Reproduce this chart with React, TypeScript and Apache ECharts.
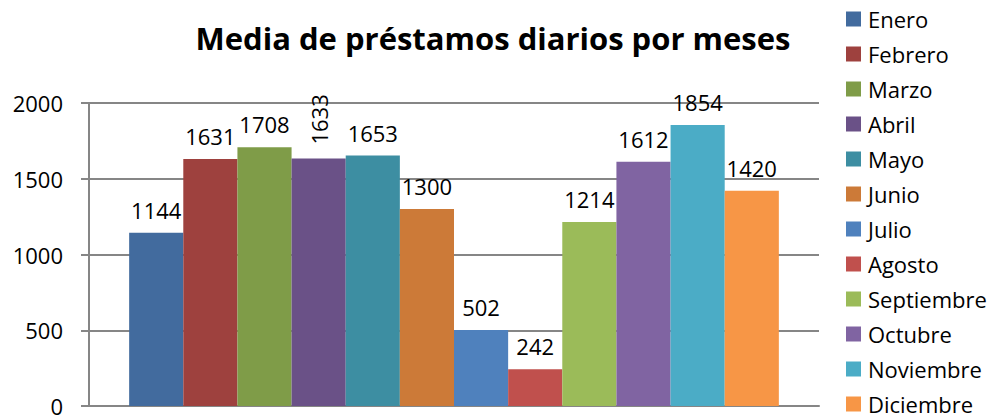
import React, { useEffect, useRef } from "react";
import * as echarts from "echarts";

const title = "Media de préstamos diarios por meses";
const months = ["Enero", "Febrero", "Marzo", "Abril", "Mayo", "Junio", "Julio", "Agosto", "Septiembre", "Octubre", "Noviembre", "Diciembre"];
const values = [1144, 1631, 1708, 1633, 1653, 1300, 502, 242, 1214, 1612, 1854, 1420];
const colors = ["#426B9E", "#9E413E", "#7F9C48", "#6A5187", "#3D8EA2", "#CC7A38", "#4F81BD", "#C0504D", "#9BBB59", "#8064A2", "#4BACC6", "#F79646"];
const rotatedLabels = ["Abril"];
const yTicks = { min: 0, max: 2000, interval: 500 };

const FONT = "Open Sans";

export default function App() {
  const ref = useRef<HTMLDivElement>(null);
  useEffect(() => {
    if (!ref.current) return;
    const chart = echarts.init(ref.current, undefined, { renderer: "svg" });
    const series = months.map((m, i) => ({
      name: m,
      type: "bar" as const,
      data: [values[i]],
      barGap: "0%",
      barCategoryGap: "11%",
      itemStyle: { color: colors[i] },
      label: rotatedLabels.includes(m)
        ? {
            show: true,
            position: "top",
            rotate: 90,
            align: "left",
            verticalAlign: "middle",
            distance: 14,
            color: "#000",
            fontFamily: FONT,
            fontSize: 22,
          }
        : {
            show: true,
            position: "top",
            distance: 12,
            color: "#000",
            fontFamily: FONT,
            fontSize: 22,
          },
    }));
    chart.setOption({
      animation: false,
      title: {
        text: title,
        left: 488,
        textAlign: "center",
        top: 17,
        textStyle: { fontFamily: FONT, fontWeight: "bold", fontSize: 31, color: "#000" },
      },
      legend: {
        orient: "vertical",
        left: 846,
        top: 8,
        padding: 0,
        itemWidth: 15,
        itemHeight: 15,
        itemGap: 13,
        icon: "rect",
        data: months,
        textStyle: { fontFamily: FONT, fontSize: 22, color: "#000", lineHeight: 20, padding: [0, 0, 0, 2] },
      },
      grid: { left: 89, right: 183, top: 103, bottom: 13, containLabel: false },
      xAxis: {
        type: "category",
        data: [""],
        axisLine: { show: true, lineStyle: { color: "#868686", width: 2 } },
        axisTick: { show: false },
        axisLabel: { show: false },
      },
      yAxis: {
        type: "value",
        min: yTicks.min,
        max: yTicks.max,
        interval: yTicks.interval,
        axisLine: { show: true, lineStyle: { color: "#868686", width: 2 } },
        axisTick: { show: true, length: 8, lineStyle: { color: "#868686", width: 2 } },
        axisLabel: { margin: 26, color: "#000", fontFamily: FONT, fontSize: 22, formatter: (v: number) => String(v) },
        splitLine: { show: true, lineStyle: { color: "#868686", width: 2 } },
      },
      series,
    });
    return () => chart.dispose();
  }, []);
  return <div ref={ref} style={{ width: 1002, height: 419, position: "absolute", left: 0, top: 0, background: "#fff" }} />;
}
